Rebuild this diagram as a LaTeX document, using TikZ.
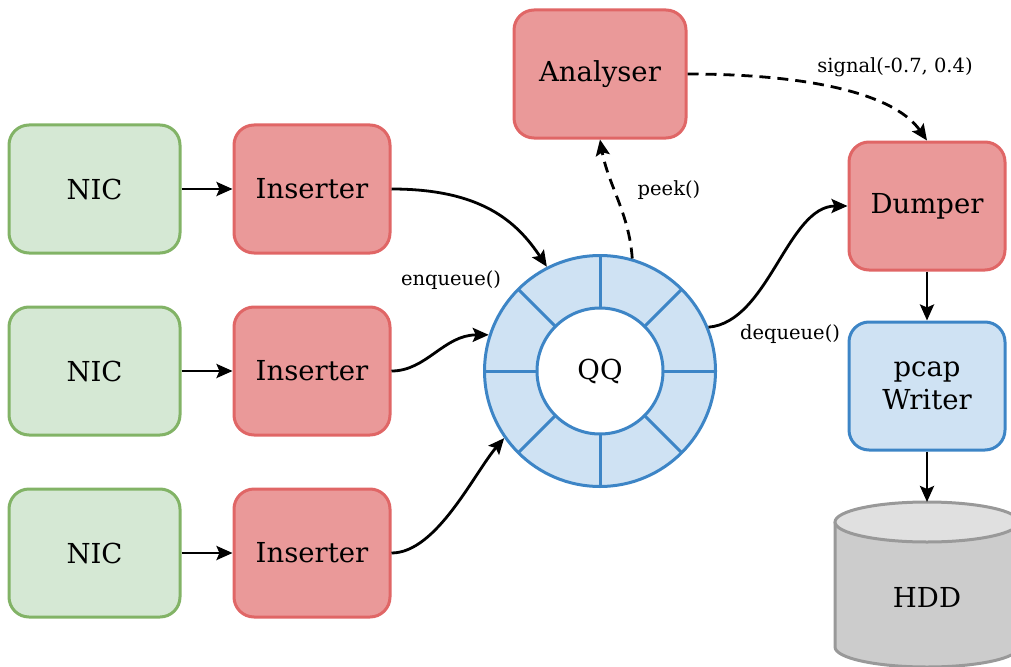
\documentclass[tikz,border=0pt]{standalone}
\usepackage{fontspec}
\setmainfont{DejaVu Serif}
\usetikzlibrary{arrows.meta}
\definecolor{gfill}{HTML}{D5E8D4}
\definecolor{gline}{HTML}{82B366}
\definecolor{rfill}{HTML}{EA9999}
\definecolor{rline}{HTML}{E06666}
\definecolor{bfill}{HTML}{CFE2F3}
\definecolor{bline}{HTML}{3D85C6}
\definecolor{hfill}{HTML}{CCCCCC}
\definecolor{htop}{HTML}{E0E0E0}
\definecolor{hline}{HTML}{999999}
\tikzset{
  box/.style={rectangle, rounded corners=20pt, line width=3pt, minimum height=128pt,
    font=\fontsize{27.5}{33}\selectfont, align=center},
  nicbox/.style={box, fill=gfill, draw=gline, minimum width=171pt},
  redbox/.style={box, fill=rfill, draw=rline, minimum width=156pt},
  bluebox/.style={box, fill=bfill, draw=bline, minimum width=156pt},
  conn/.style={line width=2.8pt, -{Stealth[length=16pt,width=14pt,inset=3pt]}},
  dconn/.style={conn, dash pattern=on 11pt off 7pt},
  lbl/.style={font=\fontsize{19.5}{23}\selectfont}
}
\begin{document}
\begin{tikzpicture}[x=1pt,y=-1pt]
\useasboundingbox (0,0) rectangle (1011,666);
% nodes
\node[nicbox] (nic1) at (94.5,189) {NIC};
\node[nicbox] (nic2) at (94.5,371) {NIC};
\node[nicbox] (nic3) at (94.5,553) {NIC};
\node[redbox] (ins1) at (312,189) {Inserter};
\node[redbox] (ins2) at (312,371) {Inserter};
\node[redbox] (ins3) at (312,553) {Inserter};
\node[redbox, minimum width=172pt] (ana) at (600,74) {Analyser};
\node[redbox] (dump) at (927,206) {Dumper};
\node[bluebox] (pcap) at (927,386) {pcap\\Writer};
% ring
\node[circle, draw=bline, fill=bfill, line width=3pt, minimum size=231pt, inner sep=0pt] (ring) at (600,371) {};
\foreach \a in {0,45,...,315}
  \draw[bline, line width=3pt] (600,371) ++(\a:-63) -- ++(\a:-53);
\node[circle, draw=bline, fill=white, line width=3pt, minimum size=126pt, inner sep=0pt,
  font=\fontsize{27.5}{33}\selectfont] (qq) at (600,371) {QQ};
% HDD cylinder
\fill[hfill] (835,522) -- (835,647) arc[start angle=180, end angle=0, x radius=92, y radius=20] -- (1019,522) -- cycle;
\draw[hline, line width=3pt] (835,522) -- (835,647) arc[start angle=180, end angle=0, x radius=92, y radius=20] -- (1019,522);
\draw[hline, fill=htop, line width=3pt] (927,522) ellipse[x radius=92, y radius=20];
\coordinate (hddtop) at (927,502);
\node[font=\fontsize{27.5}{33}\selectfont] (hdd) at (927,597) {HDD};
% connectors
\draw[conn] (nic1) -- (ins1);
\draw[conn] (nic2) -- (ins2);
\draw[conn] (nic3) -- (ins3);
\draw[conn] (ins1.east) .. controls +(90,0) and +(-30,-45) .. (ring.117);
\draw[conn] (ins2.east) .. controls +(35,0) and +(-45,0) .. (ring.162);
\draw[conn] (ins3.east) .. controls +(45,0) and +(-30,35) .. (ring.215);
\draw[conn] (ring.22) .. controls +(60,-5) and +(-60,0) .. (dump.west);
\draw[dconn] (ring.74) .. controls +(-3,-45) and +(8,45) .. (ana.south);
\draw[dconn] (ana.east) .. controls +(110,0) and +(-35,-50) .. (dump.north);
\draw[conn] (dump) -- (pcap);
\draw[conn] (pcap) -- (hddtop);
% labels
\node[lbl] (lenq) at (451,280) {enqueue()};
\node[lbl] (lpeek) at (669,190) {peek()};
\node[lbl] (ldeq) at (790,334) {dequeue()};
\node[lbl] (lsig) at (895,67) {signal(-0.7, 0.4)};
\end{tikzpicture}
\end{document}
